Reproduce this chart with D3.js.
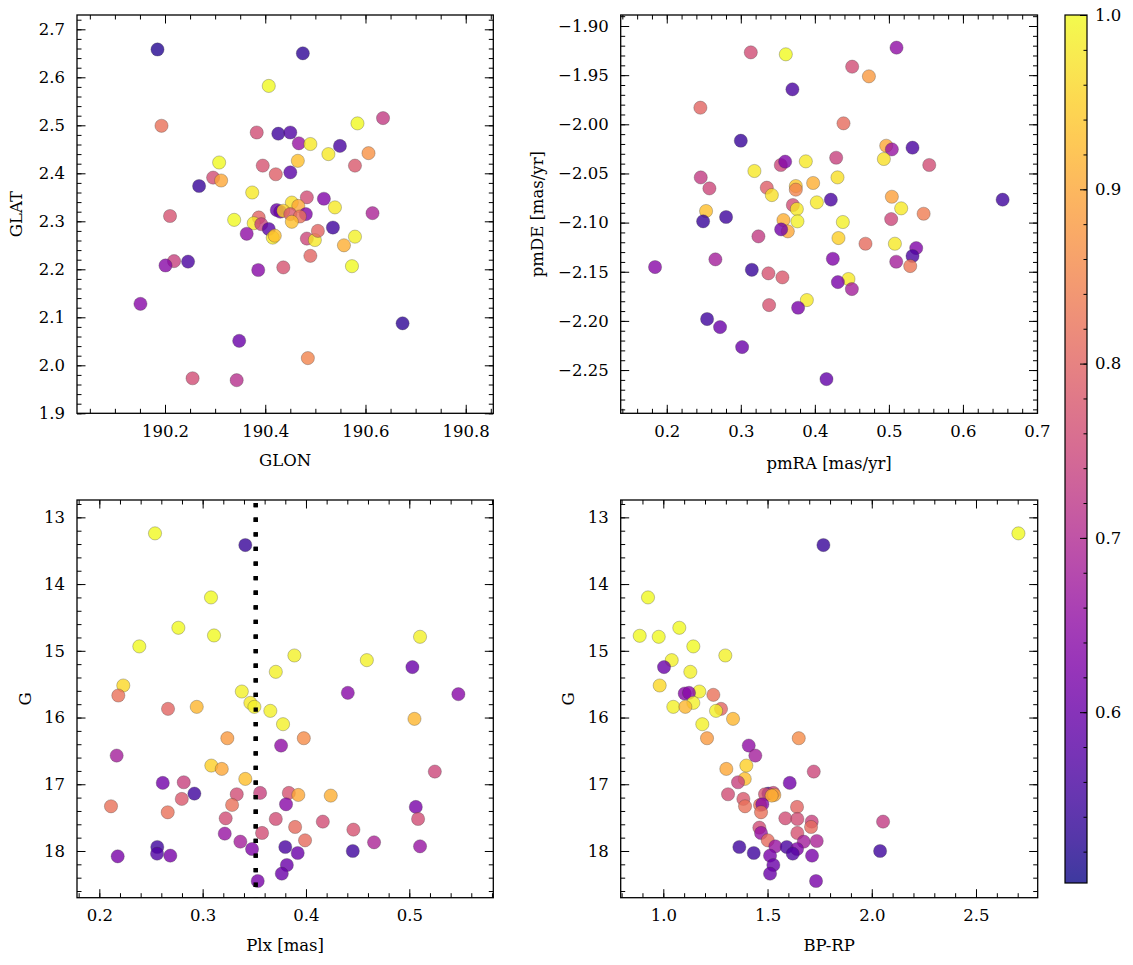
<!DOCTYPE html>
<html><head><meta charset="utf-8">
<script src="https://cdn.jsdelivr.net/npm/d3@7"></script>
<style>
html,body{margin:0;padding:0;background:#fff;}
text{font-family:"DejaVu Serif",serif;fill:#000;}
</style></head>
<body><svg id="c" width="1133" height="965"></svg>
<script>
// ---------- DATA ----------
// Panel 1: Galactic coordinates
const glon = [190.185,190.475,190.407,190.193,190.635,190.584,190.383,190.426,190.45,190.467,190.49,190.549,190.526,190.606,190.465,190.308,190.395,190.579,190.421,190.45,190.296,190.312,190.268,190.374,190.483,190.517,190.453,190.466,190.539,190.423,190.43,190.436,190.45,190.481,190.469,190.614,190.21,190.338,190.387,190.453,190.377,190.392,190.407,190.363,190.415,190.419,190.483,190.499,190.505,190.535,190.579,190.557,190.49,190.573,190.218,190.201,190.246,190.386,190.436,190.151,190.674,190.348,190.485,190.255,190.343];
const glat = [2.658,2.650,2.582,2.499,2.515,2.504,2.485,2.4825,2.485,2.4625,2.461,2.457,2.440,2.442,2.426,2.4225,2.416,2.416,2.398,2.402,2.391,2.385,2.3735,2.360,2.350,2.347,2.339,2.332,2.329,2.3235,2.320,2.322,2.315,2.315,2.310,2.317,2.311,2.303,2.308,2.299,2.296,2.294,2.284,2.274,2.266,2.270,2.264,2.261,2.280,2.287,2.268,2.250,2.228,2.2065,2.217,2.208,2.216,2.1985,2.204,2.128,2.0875,2.051,2.015,1.973,1.969];
const pGal = [0.52,0.53,1.0,0.82,0.73,1.0,0.76,0.55,0.57,0.66,0.98,0.56,0.98,0.87,0.93,1.0,0.77,0.78,0.79,0.58,0.76,0.9,0.54,0.98,0.76,0.63,0.97,0.9,0.98,0.6,0.6,0.95,0.78,0.63,0.82,0.69,0.77,1.0,0.8,0.93,0.98,0.74,0.58,0.65,0.98,0.93,0.75,0.98,0.8,0.55,0.99,0.91,0.8,1.0,0.74,0.64,0.56,0.64,0.77,0.64,0.53,0.6,0.85,0.76,0.71];
// Panel 2: proper motions
const pmra = [0.3135,0.3608,0.5103,0.4504,0.473,0.3697,0.2454,0.4387,0.300,0.4964,0.504,0.5319,0.4288,0.4932,0.354,0.3599,0.3878,0.5545,0.2459,0.3184,0.4306,0.2576,0.3351,0.3419,0.3743,0.3743,0.3977,0.4027,0.4216,0.504,0.6536,0.3703,0.3757,0.5166,0.2531,0.2491,0.2801,0.5469,0.5031,0.3765,0.4378,0.3576,0.3635,0.3545,0.3238,0.4319,0.4684,0.5081,0.5369,0.5319,0.2657,0.4243,0.5099,0.5288,0.1842,0.3149,0.3373,0.3562,0.4454,0.4311,0.45,0.3892,0.3382,0.3774,0.2545,0.272,0.3018,0.4157];
const pmde = [-1.9268,-1.9288,-1.922,-1.9414,-1.9512,-1.9644,-1.9831,-1.999,-2.0167,-2.0218,-2.0255,-2.0238,-2.034,-2.0353,-2.0414,-2.038,-2.0377,-2.0414,-2.054,-2.0475,-2.054,-2.0652,-2.0645,-2.072,-2.0628,-2.0665,-2.0597,-2.0794,-2.0767,-2.0737,-2.0767,-2.0821,-2.0862,-2.0855,-2.0882,-2.0987,-2.0943,-2.091,-2.0964,-2.0987,-2.0994,-2.0974,-2.1089,-2.1069,-2.114,-2.1157,-2.1215,-2.1215,-2.1259,-2.134,-2.1374,-2.1368,-2.1398,-2.1442,-2.1452,-2.148,-2.1516,-2.1557,-2.1574,-2.1605,-2.1676,-2.1788,-2.1839,-2.1866,-2.1981,-2.2063,-2.2266,-2.2592];
const pPM = [0.76,1.0,0.65,0.76,0.88,0.56,0.8,0.81,0.54,0.9,0.66,0.56,0.74,0.97,0.75,0.63,0.98,0.76,0.73,0.98,0.97,0.75,0.79,0.97,0.94,0.85,0.91,0.98,0.56,0.89,0.55,0.76,0.98,0.98,0.93,0.54,0.55,0.84,0.75,0.99,0.99,0.91,0.9,0.61,0.73,0.95,0.81,0.98,0.63,0.56,0.68,0.63,0.68,0.83,0.64,0.54,0.77,0.78,0.98,0.62,0.68,0.98,0.77,0.62,0.55,0.6,0.6,0.59];
// Panel 3: parallax vs G
const plx = [0.2539,0.3413,0.3081,0.2765,0.311,0.2387,0.5104,0.3888,0.4589,0.503,0.3708,0.2232,0.2184,0.3379,0.4405,0.5475,0.3462,0.3501,0.2665,0.2943,0.3655,0.505,0.3778,0.3239,0.3979,0.3759,0.2168,0.3084,0.3185,0.5247,0.3413,0.2614,0.2817,0.292,0.333,0.3556,0.3834,0.3926,0.424,0.2798,0.2113,0.3285,0.3807,0.5063,0.2662,0.3223,0.3708,0.4163,0.5085,0.3895,0.4459,0.3214,0.3575,0.3991,0.3365,0.4659,0.5104,0.2561,0.3478,0.38,0.4453,0.392,0.2178,0.2559,0.2687,0.3815,0.3766,0.3533];
const gPlx = [13.24,13.415,14.2,14.655,14.77,14.934,14.79,15.07,15.14,15.244,15.315,15.52,15.67,15.61,15.63,15.65,15.78,15.84,15.87,15.84,15.9,16.02,16.1,16.31,16.31,16.42,16.57,16.72,16.77,16.81,16.92,16.98,16.97,17.14,17.15,17.13,17.13,17.16,17.17,17.22,17.33,17.31,17.3,17.34,17.42,17.51,17.52,17.56,17.52,17.64,17.68,17.74,17.73,17.84,17.86,17.87,17.93,17.94,17.97,17.94,18.0,18.03,18.08,18.04,18.07,18.21,18.34,18.45];
const pPlx = [1.0,0.54,1.0,1.0,1.0,1.0,0.99,0.99,0.99,0.6,0.99,0.96,0.82,0.99,0.64,0.64,0.98,0.99,0.8,0.92,0.99,0.92,0.99,0.88,0.86,0.65,0.68,0.95,0.9,0.75,0.93,0.61,0.74,0.55,0.76,0.74,0.77,0.9,0.91,0.78,0.82,0.82,0.64,0.62,0.82,0.76,0.76,0.76,0.76,0.81,0.77,0.66,0.76,0.81,0.68,0.69,0.66,0.55,0.63,0.56,0.55,0.6,0.62,0.57,0.62,0.6,0.6,0.62];
const plxCut = 0.3514;
// Panel 4: colour-magnitude diagram
const bprp = [2.7035,1.768,0.9266,1.0768,0.8868,0.978,1.144,1.2975,1.0403,1.0034,1.1296,0.9827,1.24,1.1727,1.1027,1.1233,1.144,1.048,1.2769,1.1056,1.2529,1.3345,1.1871,1.2097,1.6497,1.4098,1.4415,1.3983,1.3023,1.7217,1.3906,1.6065,1.3584,1.5038,1.3105,1.5278,1.488,1.5326,1.52,1.3839,1.392,1.464,1.475,1.6415,1.4688,1.5854,1.643,1.7121,2.0542,1.7087,1.643,1.4607,1.4688,1.501,1.6737,1.736,1.5374,1.3647,1.5921,1.6415,2.04,1.4338,1.621,1.7135,1.512,1.5278,1.512,1.7326];
const gCmd = [13.24,13.415,14.2,14.655,14.775,14.79,14.934,15.07,15.14,15.244,15.315,15.52,15.66,15.61,15.64,15.63,15.78,15.84,15.87,15.84,15.9,16.02,16.1,16.31,16.31,16.42,16.57,16.72,16.77,16.81,16.92,16.98,16.97,17.14,17.15,17.13,17.15,17.16,17.17,17.22,17.33,17.31,17.3,17.34,17.42,17.51,17.52,17.56,17.56,17.64,17.73,17.65,17.73,17.84,17.86,17.85,17.93,17.94,17.94,17.97,18.0,18.03,18.04,18.07,18.07,18.21,18.34,18.45];
const pCmd = [1.0,0.54,1.0,1.0,1.0,1.0,1.0,0.99,0.99,0.6,0.99,0.96,0.82,0.99,0.64,0.64,0.99,0.99,0.8,0.92,0.99,0.92,0.99,0.88,0.86,0.65,0.68,0.95,0.9,0.75,0.93,0.61,0.74,0.55,0.76,0.74,0.77,0.9,0.91,0.78,0.82,0.82,0.64,0.8,0.82,0.76,0.76,0.74,0.73,0.81,0.77,0.76,0.66,0.81,0.68,0.69,0.66,0.55,0.56,0.63,0.55,0.55,0.57,0.62,0.62,0.6,0.6,0.62];
// Ticks
const glonTicks = [190.2,190.4,190.6,190.8];
const glatTicks = [1.9,2.0,2.1,2.2,2.3,2.4,2.5,2.6,2.7];
const pmraTicks = [0.2,0.3,0.4,0.5,0.6,0.7];
const pmdeTicks = [-2.25,-2.20,-2.15,-2.10,-2.05,-2.00,-1.95,-1.90];
const plxTicks = [0.2,0.3,0.4,0.5];
const gTicks = [13,14,15,16,17,18];
const bprpTicks = [1.0,1.5,2.0,2.5];
const cbTicks = [0.6,0.7,0.8,0.9,1.0];
const pMin = 0.502, pMax = 1.0;

// ---------- DRAW ----------
const svg = d3.select("#c");
const color = d3.scaleSequential(d3.interpolatePlasma).domain([pMin, pMax]);

function minorVals(domain, step){
  const [a,b] = [Math.min(...domain), Math.max(...domain)];
  const out=[]; const s=Math.ceil(a/step-1e-9);
  for(let k=s; k*step<=b+1e-9; k++) out.push(+(k*step).toFixed(6));
  return out;
}

function panel(o){
  const w = o.x1-o.x0, h = o.y1-o.y0;
  const g = svg.append("g").attr("transform",`translate(${o.x0},${o.y0})`);
  const x = d3.scaleLinear().domain(o.xd).range([0,w]);
  const y = d3.scaleLinear().domain(o.yd).range(o.yInv?[0,h]:[h,0]);
  const clip = "clip"+o.id;
  g.append("clipPath").attr("id",clip).append("rect").attr("width",w).attr("height",h);
  const pts = g.append("g").attr("clip-path",`url(#${clip})`);
  if(o.vline!==undefined){
    pts.append("line").attr("x1",x(o.vline)).attr("x2",x(o.vline)).attr("y1",0).attr("y2",h)
      .attr("stroke","#000").attr("stroke-width",4.3).attr("stroke-dasharray","4.3,10.3")
      .attr("stroke-dashoffset",-3);
  }
  const data = o.xs.map((v,i)=>({x:v,y:o.ys[i],p:o.ps[i]}));
  pts.selectAll("circle").data(data).join("circle")
    .attr("cx",d=>x(d.x)).attr("cy",d=>y(d.y)).attr("r",6.6)
    .attr("fill",d=>color(d.p)).attr("fill-opacity",0.8)
    .attr("stroke","#3a3a3a").attr("stroke-opacity",0.6).attr("stroke-width",0.5);
  if(o.vline!==undefined){
    pts.append("line").attr("x1",x(o.vline)).attr("x2",x(o.vline)).attr("y1",0).attr("y2",h)
      .attr("stroke","#000").attr("stroke-width",4.3).attr("stroke-dasharray","4.3,10.3")
      .attr("stroke-dashoffset",-3);
  }
  const M=8.5, m=4.5;
  const xMin = minorVals(o.xd,o.xm), yMin = minorVals(o.yd,o.ym);
  const style = s=>s.call(a=>a.select(".domain").remove()).selectAll("line").attr("stroke","#000").attr("stroke-width",1);
  // bottom
  g.append("g").attr("transform",`translate(0,${h})`).call(d3.axisBottom(x).tickValues(xMin).tickSize(-m).tickFormat("")).call(style);
  const bx = g.append("g").attr("transform",`translate(0,${h})`).call(d3.axisBottom(x).tickValues(o.xt).tickSize(-M).tickPadding(12).tickFormat(d3.format(o.xf)));
  bx.call(style); bx.selectAll("text").attr("font-size",16.5).attr("font-family","DejaVu Serif");
  // top
  g.append("g").call(d3.axisTop(x).tickValues(xMin).tickSize(-m).tickFormat("")).call(style);
  g.append("g").call(d3.axisTop(x).tickValues(o.xt).tickSize(-M).tickFormat("")).call(style);
  // left
  g.append("g").call(d3.axisLeft(y).tickValues(yMin).tickSize(-m).tickFormat("")).call(style);
  const ly = g.append("g").call(d3.axisLeft(y).tickValues(o.yt).tickSize(-M).tickPadding(12).tickFormat(d3.format(o.yf)));
  ly.call(style); ly.selectAll("text").attr("font-size",16.5).attr("font-family","DejaVu Serif");
  // right
  g.append("g").attr("transform",`translate(${w},0)`).call(d3.axisRight(y).tickValues(yMin).tickSize(-m).tickFormat("")).call(style);
  g.append("g").attr("transform",`translate(${w},0)`).call(d3.axisRight(y).tickValues(o.yt).tickSize(-M).tickFormat("")).call(style);
  // frame
  g.append("rect").attr("width",w).attr("height",h).attr("fill","none").attr("stroke","#000").attr("stroke-width",1.3);
  // labels
  svg.append("text").attr("x",o.x0+w/2).attr("y",o.xly).attr("text-anchor","middle").attr("font-size",16.5).text(o.xl);
  svg.append("text").attr("transform",`translate(${o.ylx},${o.y0+h/2}) rotate(-90)`).attr("text-anchor","middle").attr("dy","0.35em").attr("font-size",16.5).text(o.yl);
}

panel({id:1,x0:77,x1:493.3,y0:15,y1:413.3,xd:[190.0244,190.855],yd:[1.9,2.7298],xs:glon,ys:glat,ps:pGal,
  xt:glonTicks,yt:glatTicks,xm:0.05,ym:0.02,xf:".1f",yf:".1f",xl:"GLON",yl:"GLAT",xly:466,ylx:16});
panel({id:2,x0:620.7,x1:1037.5,y0:15,y1:413.3,xd:[0.1378,0.7007],yd:[-2.294,-1.8888],xs:pmra,ys:pmde,ps:pPM,
  xt:pmraTicks,yt:pmdeTicks,xm:0.02,ym:0.01,xf:".1f",yf:".2f",xl:"pmRA [mas/yr]",yl:"pmDE [mas/yr]",xly:469,ylx:537});
panel({id:3,x0:77,x1:493.3,y0:500,y1:897.7,xd:[0.1784,0.5813],yd:[12.74,18.70],yInv:true,xs:plx,ys:gPlx,ps:pPlx,
  xt:plxTicks,yt:gTicks,xm:0.02,ym:0.2,xf:".1f",yf:"d",xl:"Plx [mas]",yl:"G",xly:951,ylx:25,vline:plxCut});
panel({id:4,x0:620.7,x1:1037.7,y0:500,y1:897.7,xd:[0.7956,2.796],yd:[12.74,18.70],yInv:true,xs:bprp,ys:gCmd,ps:pCmd,
  xt:bprpTicks,yt:gTicks,xm:0.1,ym:0.2,xf:".1f",yf:"d",xl:"BP-RP",yl:"G",xly:951,ylx:568});

// colorbar
(function(){
  const x0=1065, x1=1087, y0=15, y1=883;
  const defs = svg.append("defs");
  const grad = defs.append("linearGradient").attr("id","cbg").attr("x1",0).attr("y1",1).attr("x2",0).attr("y2",0);
  d3.range(0,1.0001,0.05).forEach(t=>grad.append("stop").attr("offset",t).attr("stop-color",d3.interpolatePlasma(t)).attr("stop-opacity",0.8));
  svg.append("rect").attr("x",x0).attr("y",y0).attr("width",x1-x0).attr("height",y1-y0).attr("fill","url(#cbg)");
  const cy = d3.scaleLinear().domain([pMin,pMax]).range([y1,y0]);
  const minors = minorVals([pMin,pMax],0.02);
  const g = svg.append("g").attr("transform",`translate(${x1},0)`);
  const st = s=>s.call(a=>a.select(".domain").remove()).selectAll("line").attr("stroke","#000").attr("stroke-width",1);
  g.append("g").call(d3.axisRight(cy).tickValues(minors).tickSize(-3.5).tickFormat("")).call(st);
  const a = g.append("g").call(d3.axisRight(cy).tickValues(cbTicks).tickSize(-7).tickPadding(8).tickFormat(d3.format(".1f")));
  a.call(st); a.selectAll("text").attr("font-size",16.5).attr("font-family","DejaVu Serif");
  svg.append("rect").attr("x",x0).attr("y",y0).attr("width",x1-x0).attr("height",y1-y0).attr("fill","none").attr("stroke","#000").attr("stroke-width",1.2);
})();
</script></body></html>
